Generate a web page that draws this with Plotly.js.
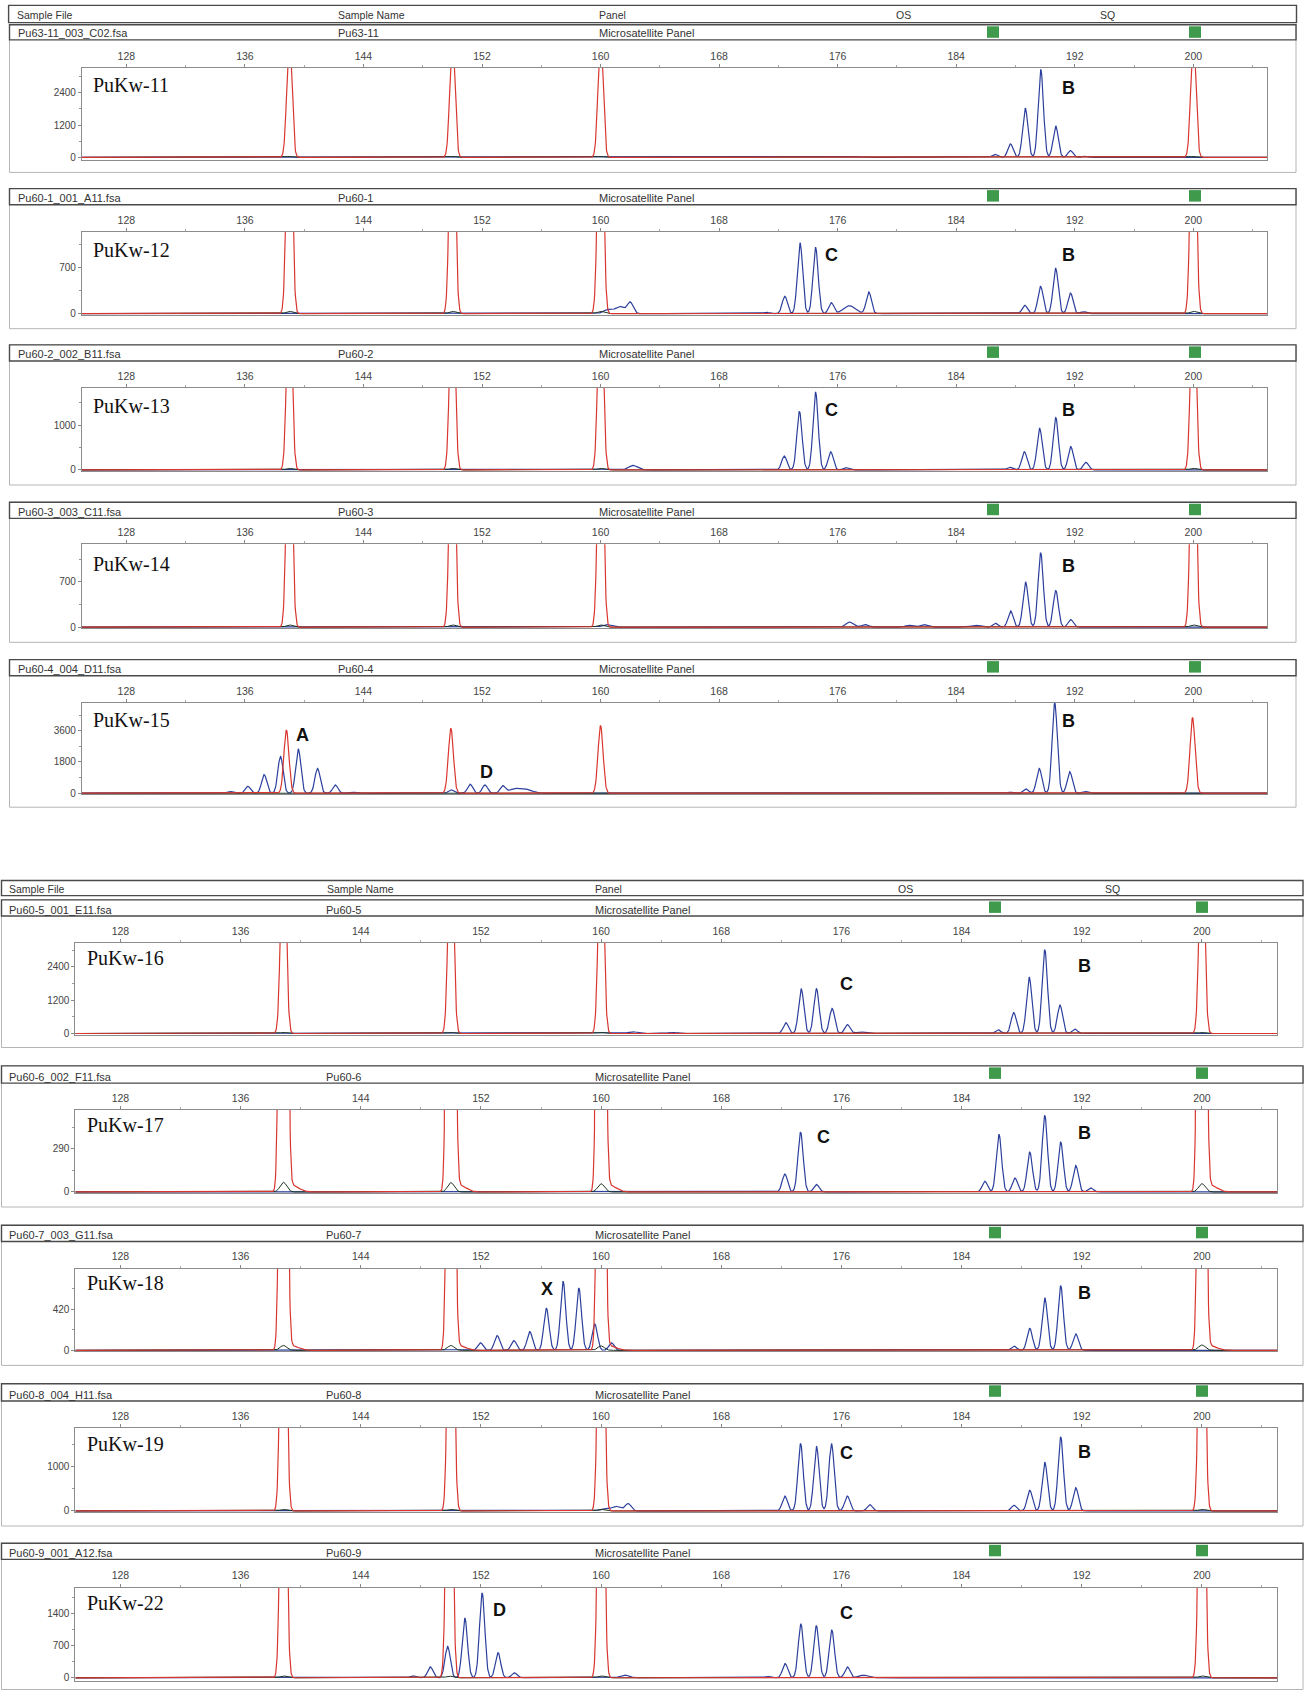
<!DOCTYPE html>
<html><head><meta charset="utf-8">
<script src="https://cdn.plot.ly/plotly-3.0.1.min.js"></script>
<style>html,body{margin:0;padding:0;background:#fff}#chart{width:1304px;height:1690px}</style>
</head><body><div id="chart"></div>
<script>
// ---------------- DATA ----------------
const panelLabels = ['PuKw-11','PuKw-12','PuKw-13','PuKw-14','PuKw-15','PuKw-16','PuKw-17','PuKw-18','PuKw-19','PuKw-22'];
const sampleFiles = ['Pu63-11_003_C02.fsa','Pu60-1_001_A11.fsa','Pu60-2_002_B11.fsa','Pu60-3_003_C11.fsa','Pu60-4_004_D11.fsa',
                     'Pu60-5_001_E11.fsa','Pu60-6_002_F11.fsa','Pu60-7_003_G11.fsa','Pu60-8_004_H11.fsa','Pu60-9_001_A12.fsa'];
const sampleNames = ['Pu63-11','Pu60-1','Pu60-2','Pu60-3','Pu60-4','Pu60-5','Pu60-6','Pu60-7','Pu60-8','Pu60-9'];
const panelName = 'Microsatellite Panel';
const headerCols = ['Sample File','Sample Name','Panel','OS','SQ'];
const xTickVals = [128,136,144,152,160,168,176,184,192,200];
const yTickStep = [1200,700,1000,700,1800,1200,290,420,1000,700];
const yTop = [3320,1237,1833,1283,5214,3252,551,838,1878,1960];
const yBottom = [-80,-16,-24,-17,-62,-39,-7,-11,-24,-70];

// size-standard (red) peaks: positions (bp) and heights (RFU)
const red11_bp = [139.0,150.0,160.0,200.0], red11_h = [4500,4500,4500,4500];
const red12_bp = [139.0,150.0,160.0,200.0], red12_h = [4500,4500,4500,4500];
const red13_bp = [139.0,150.0,160.0,200.0], red13_h = [4500,4500,4500,4500];
const red14_bp = [139.0,150.0,160.0,200.0], red14_h = [4500,4500,4500,4500];
const red15_bp = [138.8,149.9,160.0,199.95], red15_h = [3640,3740,3900,4345];
const red16_bp = [138.85,150.0,160.0,200.0], red16_h = [8000,8000,8000,8000];
const red17_bp = [138.85,150.0,160.0,200.0], red17_h = [12000,12000,12000,12000];
const red18_bp = [138.85,150.0,160.0,200.0], red18_h = [12000,12000,12000,12000];
const red19_bp = [138.85,150.0,160.0,200.0], red19_h = [10000,10000,10000,10000];
const red22_bp = [138.85,149.9,160.0,200.0], red22_h = [10000,10000,10000,10000];
const redTail = [0,0,0,0,0,0,45,45,0,0];

// small dark peaks under the size standard
const dark11_h = [35,35,35,35], dark12_h = [35,35,35,35], dark13_h = [35,35,35,35], dark14_h = [35,35,35,35];
const dark15_h = [30,30,30,30], dark16_h = [40,40,40,40], dark17_h = [65,63,55,56], dark18_h = [50,50,45,55];
const dark19_h = [35,35,35,35], dark22_h = [40,35,40,40];

// sample (blue) peaks: bp, height, width (0 = normal)
const blue11_bp = [176.8,177.4,182.6,183.4,186.6,187.66,188.66,189.71,190.71,191.71,192.7];
const blue11_h  = [25,20,15,15,110,500,1830,3250,1170,250,40];
const blue11_w  = [0.35,0.3,0.3,0.3,0,0,0,0,0,0,0];

const blue12_bp = [160.5,161.3,162.0,171.2,172.43,173.46,174.51,175.57,176.8,178.1,188.63,189.69,190.71,191.71,192.6];
const blue12_h  = [60,105,170,20,263,1071,997,164,120,327,125,412,685,312,30];
const blue12_w  = [0.3,0.3,0.2,0,0,0,0,0,0.4,0,0,0,0,0,0];

const blue13_bp = [162.2,172.4,173.42,174.51,175.53,176.55,187.6,188.6,189.63,190.72,191.73,192.75];
const blue13_h  = [100,310,1310,1740,405,50,60,405,930,1170,520,170];
const blue13_w  = [0.3,0,0,0,0,0,0,0,0,0,0,0];

const blue14_bp = [160.4,176.8,177.85,180.8,181.8,185.3,186.65,187.67,188.68,189.7,190.72,191.73];
const blue14_h  = [40,80,40,30,40,30,60,250,700,1150,567,117];
const blue14_w  = [0.3,0.25,0.25,0.25,0.25,0.3,0,0,0,0,0,0];

const blue15_bp = [135.0,136.2,137.3,138.4,139.6,140.9,142.1,143.4,149.9,151.2,152.2,153.4,154.2,155.0,187.67,188.7,189.6,190.65,191.66,192.7];
const blue15_h  = [100,400,1070,2120,2550,1430,475,50,200,515,475,400,240,200,60,250,1430,5200,1240,100];
const blue15_w  = [0,0,0,0,0,0,0,0.3,0,0,0,0,0.4,0.4,0,0,0,0,0,0];

const blue16_bp = [162.1,164.7,172.3,173.32,174.34,175.38,176.4,177.3,186.43,187.47,188.5,189.54,190.55,191.54];
const blue16_h  = [60,40,390,1610,1610,900,317,60,135,755,2030,3010,1020,160];
const blue16_w  = [0.3,0.3,0,0,0,0,0,0.3,0,0,0,0,0,0];

const blue17_bp = [172.23,173.28,174.34,185.55,186.49,187.55,188.54,189.54,190.6,191.6,192.6];
const blue17_h  = [121,402,50,72,387,94,268,515,335,178,27];
const blue17_w  = [0,0,0,0,0,0,0,0,0,0,0];

const blue18_bp = [151.97,153.08,154.19,155.25,156.36,157.47,158.52,159.58,160.69,187.49,188.54,189.54,190.6,191.6];
const blue18_h  = [77,151,100,191,430,706,638,269,77,44,225,538,662,168];
const blue18_w  = [0,0,0,0,0,0,0,0,0,0,0,0,0,0];

const blue19_bp = [160.2,161.0,161.8,172.23,173.28,174.34,175.34,176.39,177.89,187.49,188.54,189.54,190.6,191.6];
const blue19_h  = [50,100,165,338,1526,1466,1526,338,143,128,466,1105,1677,526];
const blue19_w  = [0.3,0.3,0.2,0,0,0,0,0,0,0,0,0,0,0];

const blue22_bp = [147.46,148.63,149.78,150.93,152.08,153.14,154.23,161.57,171.1,172.25,173.3,174.33,175.36,176.4,177.47];
const blue22_h  = [43,236,678,1292,1842,543,107,57,30,307,1164,1128,1035,236,57];
const blue22_w  = [0,0,0,0,0,0,0,0.3,0,0,0,0,0,0,0.3];

// allele labels: panel index, text, bp, RFU
const labelPanel = [0,1,1,2,2,3,4,4,4,5,5,6,6,7,7,8,8,9,9];
const labelText  = ['B','C','B','C','B','B','A','D','B','C','B','C','B','X','B','C','B','D','C'];
const labelBp    = [191.6,175.6,191.6,175.6,191.6,191.6,139.9,152.3,191.6,176.35,192.2,174.8,192.2,156.4,192.2,176.35,192.2,153.25,176.35];
const labelRfu   = [2560,879,879,1333,1333,950,3352,1241,4159,1781,2420,370,399,630,586,1317,1341,1470,1400];

// ---------------- BUILD ----------------
const reds = [[red11_bp,red11_h],[red12_bp,red12_h],[red13_bp,red13_h],[red14_bp,red14_h],[red15_bp,red15_h],
              [red16_bp,red16_h],[red17_bp,red17_h],[red18_bp,red18_h],[red19_bp,red19_h],[red22_bp,red22_h]];
const darks = [dark11_h,dark12_h,dark13_h,dark14_h,dark15_h,dark16_h,dark17_h,dark18_h,dark19_h,dark22_h];
const blues = [[blue11_bp,blue11_h,blue11_w],[blue12_bp,blue12_h,blue12_w],[blue13_bp,blue13_h,blue13_w],
               [blue14_bp,blue14_h,blue14_w],[blue15_bp,blue15_h,blue15_w],[blue16_bp,blue16_h,blue16_w],
               [blue17_bp,blue17_h,blue17_w],[blue18_bp,blue18_h,blue18_w],[blue19_bp,blue19_h,blue19_w],
               [blue22_bp,blue22_h,blue22_w]];

const W = 1304, H = 1690;
const px = v => v / W, py = v => 1 - v / H;
// layout geometry in page pixels
const boxTop  = [67.9,231.7,388.0,544.2,702.7,943.0,1110.0,1268.5,1428.0,1587.5];
const boxBot  = [159.5,314.7,471.0,628.3,794.3,1034.6,1193.0,1351.4,1512.0,1681.0];
const rowTop  = [24.8,188.6,344.9,502.2,659.6,899.9,1065.9,1225.3,1383.8,1543.3];
const rowBot  = [39.9,204.8,361.0,518.4,675.7,916.0,1083.1,1241.5,1401.0,1559.4];
const frameBot= [172.4,328.7,485.0,642.3,807.2,1047.5,1207.0,1365.4,1526.0,1689.5];

const xs = [];
for (let i = 0; i <= 4000; i++) xs.push(Math.round((125 + i * 0.02) * 100) / 100);
function curve(bp, h, w, defW, tailH) {
  return xs.map(x => {
    let s = 0;
    for (let j = 0; j < bp.length; j++) {
      const sg = (w && w[j]) ? w[j] : defW;
      const d = (x - bp[j]) / sg;
      if (d > -8 && d < 8) s += h[j] * Math.exp(-0.5 * d * d);
      if (tailH) { const t = (x - bp[j] - 0.55) / 0.45; if (t > -6 && t < 6) s += tailH * Math.exp(-0.5 * t * t); }
    }
    return s;
  });
}

const traces = [];
const layout = {
  width: W, height: H, margin: {l:0,r:0,t:0,b:0}, showlegend: false,
  paper_bgcolor: '#fff', plot_bgcolor: '#fff', shapes: [], annotations: [],
  font: {family: 'Liberation Sans, Arial, sans-serif', color: '#333'}
};

for (let i = 0; i < 10; i++) {
  const suf = i === 0 ? '' : String(i + 1);
  const top = i < 5;
  const left = top ? 81.9 : 75.4, right = top ? 1267.4 : 1277;
  const xa = 'x' + suf, ya = 'y' + suf;
  layout['xaxis' + suf] = {
    domain: [px(left), px(right)], range: [125, 205], anchor: ya, side: 'top',
    tickmode: 'array', tickvals: xTickVals, ticks: 'outside', ticklen: 3, tickcolor: '#888',
    tickfont: {size: 10.5, color: '#444'}, showline: true, mirror: true, linecolor: '#8c8c8c', linewidth: 1,
    showgrid: false, zeroline: false, fixedrange: true,
    minor: {tickmode: 'linear', tick0: 124, dtick: 4, ticks: 'outside', ticklen: 2, tickcolor: '#aaa'}
  };
  layout['yaxis' + suf] = {
    domain: [py(boxBot[i]), py(boxTop[i])], range: [yBottom[i], yTop[i]], anchor: xa,
    tickmode: 'linear', tick0: 0, dtick: yTickStep[i], ticks: 'outside', ticklen: 3, tickcolor: '#888',
    tickfont: {size: 10, color: '#444'}, showline: true, mirror: true, linecolor: '#8c8c8c', linewidth: 1,
    showgrid: false, zeroline: false, fixedrange: true,
    minor: {tickmode: 'linear', tick0: 0, dtick: yTickStep[i] / 2, ticks: 'outside', ticklen: 2, tickcolor: '#999'}
  };
  const b = blues[i], r = reds[i];
  traces.push({type:'scatter', mode:'lines', x: xs, y: curve(b[0], b[1], b[2], 0.175, 0), xaxis: xa, yaxis: ya,
               line: {color:'#2b3f9c', width: 1.2}, hoverinfo: 'skip'});
  traces.push({type:'scatter', mode:'lines', x: xs, y: curve(r[0], darks[i], null, 0.22, 0), xaxis: xa, yaxis: ya,
               line: {color:'#1d3320', width: 1}, hoverinfo: 'skip'});
  traces.push({type:'scatter', mode:'lines', x: xs, y: curve(r[0], r[1], null, 0.17, redTail[i]), xaxis: xa, yaxis: ya,
               line: {color:'#d8362f', width: 1.2}, hoverinfo: 'skip'});

  // panel frame
  const fx0 = top ? 9.5 : 1.5, fx1 = top ? 1296 : 1303;
  layout.shapes.push({type:'rect', xref:'paper', yref:'paper', x0: px(fx0), x1: px(fx1), y0: py(frameBot[i]), y1: py(rowTop[i]),
                      line: {color:'#b5b5b5', width: 1}});
  // header row for sample
  const rx0 = top ? 9.5 : 1.5, rx1 = top ? 1296 : 1303;
  layout.shapes.push({type:'rect', xref:'paper', yref:'paper', x0: px(rx0), x1: px(rx1), y0: py(rowBot[i]), y1: py(rowTop[i]),
                      line: {color:'#4a4a4a', width: 1.4}, fillcolor: '#fff'});
  const g1 = top ? 987 : 989, g2 = top ? 1189 : 1196;
  [g1, g2].forEach(g => layout.shapes.push({type:'rect', xref:'paper', yref:'paper', x0: px(g), x1: px(g + 12),
      y0: py(rowTop[i] + 13), y1: py(rowTop[i] + 1.5), line: {width: 0}, fillcolor: '#3f9a4c'}));
  const ty = py(rowBot[i] - 6.5);
  const c1 = top ? 16 : 6.5, c2 = top ? 336 : 324, c3 = top ? 597 : 593;
  [[c1, sampleFiles[i]], [c2, sampleNames[i]], [c3, panelName]].forEach(([x, t]) =>
    layout.annotations.push({xref:'paper', yref:'paper', x: px(x), y: ty, text: t, showarrow: false,
      xanchor: 'left', yanchor: 'middle', font: {size: 11, color: '#333'}}));
  // sample label inside plot
  layout.annotations.push({xref: xa + ' domain', yref: ya + ' domain', x: 0.008, y: [0.81,0.78,0.78,0.77,0.81,0.835,0.82,0.82,0.81,0.83][i],
    text: panelLabels[i], showarrow: false, xanchor: 'left', yanchor: 'middle',
    font: {family: 'Liberation Serif, Times New Roman, serif', size: 20, color: '#111'}});
}

// column header rows
[[5.4, 22.6, 8.6, 1296.5, [15, 336, 597, 903, 1107]], [880.5, 895.6, 1.5, 1303, [6.5, 325, 593, 905, 1112]]].forEach(([y0, y1, x0, x1, cols]) => {
  layout.shapes.push({type:'rect', xref:'paper', yref:'paper', x0: px(x0), x1: px(x1), y0: py(y1), y1: py(y0),
                      line: {color:'#4a4a4a', width: 1.4}, fillcolor: '#fff'});
  headerCols.forEach((t, k) => layout.annotations.push({xref:'paper', yref:'paper', x: px(cols[k]), y: py((y0 + y1) / 2 + 0.5),
    text: t, showarrow: false, xanchor: k >= 3 ? 'center' : 'left', yanchor: 'middle', font: {size: 10.5, color: '#333'}}));
});

// allele labels
for (let k = 0; k < labelText.length; k++) {
  const i = labelPanel[k], suf = i === 0 ? '' : String(i + 1);
  layout.annotations.push({xref: 'x' + suf, yref: 'y' + suf, x: labelBp[k], y: labelRfu[k], text: labelText[k],
    showarrow: false, xanchor: 'center', yanchor: 'middle',
    font: {family: 'Liberation Sans, Arial, sans-serif', size: 18, color: '#111', weight: 'bold'}});
}

Plotly.newPlot('chart', traces, layout, {staticPlot: true, displayModeBar: false});
</script></body></html>
